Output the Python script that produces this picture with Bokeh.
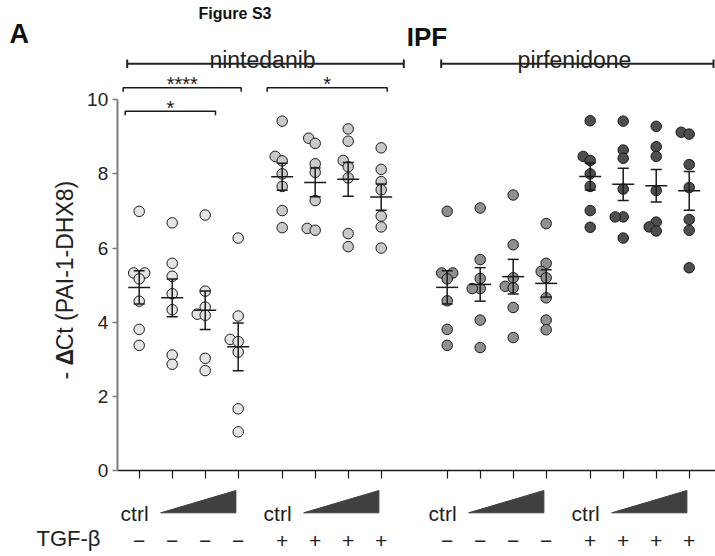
import numpy as np
from bokeh.plotting import figure
from bokeh.models import Range1d, LinearAxis, FixedTicker
from bokeh.core.properties import value
from bokeh.embed import file_html
from bokeh.resources import INLINE

# ---------------- data: -dCt (PAI-1 - DHX8) ----------------
nint_noTGF_ctrl = [6.99, 5.33, 5.33, 5.17, 4.57, 3.81, 3.38]
nint_noTGF_low = [6.68, 5.59, 5.24, 4.77, 4.34, 3.12, 2.87]
nint_noTGF_mid = [6.89, 4.84, 4.41, 4.22, 4.19, 3.03, 2.70]
nint_noTGF_high = [6.27, 4.17, 3.54, 3.48, 3.20, 1.67, 1.05]

nint_TGF_ctrl = [9.42, 8.47, 8.35, 8.00, 7.66, 7.01, 6.55]
nint_TGF_low = [8.96, 8.82, 8.27, 8.04, 7.28, 6.53, 6.48]
nint_TGF_mid = [9.21, 8.88, 8.36, 8.19, 7.89, 6.39, 6.04]
nint_TGF_high = [8.70, 8.12, 7.79, 7.57, 6.86, 6.57, 6.00]

pirf_noTGF_ctrl = [6.99, 5.33, 5.33, 5.17, 4.58, 3.81, 3.38]
pirf_noTGF_low = [7.08, 5.69, 5.18, 4.91, 4.91, 4.06, 3.32]
pirf_noTGF_mid = [7.43, 6.09, 5.20, 4.97, 4.93, 4.40, 3.59]
pirf_noTGF_high = [6.66, 5.59, 5.37, 5.20, 4.66, 4.06, 3.80]

pirf_TGF_ctrl = [9.43, 8.47, 8.36, 8.00, 7.66, 7.01, 6.56]
pirf_TGF_low = [9.42, 8.64, 8.42, 7.59, 6.84, 6.84, 6.27]
pirf_TGF_mid = [9.28, 8.73, 8.47, 7.55, 6.70, 6.57, 6.46]
pirf_TGF_high = [9.12, 9.07, 8.25, 7.63, 6.77, 6.48, 5.47]

drug_names = ["nintedanib", "pirfenidone"]
tgf_signs = ["\u2212", "+", "\u2212", "+"]
ctrl_label = "ctrl"
y_ticks = [0, 2, 4, 6, 8, 10]
sig_labels = ["****", "*", "*"]

blocks = [
    [nint_noTGF_ctrl, nint_noTGF_low, nint_noTGF_mid, nint_noTGF_high],
    [nint_TGF_ctrl, nint_TGF_low, nint_TGF_mid, nint_TGF_high],
    [pirf_noTGF_ctrl, pirf_noTGF_low, pirf_noTGF_mid, pirf_noTGF_high],
    [pirf_TGF_ctrl, pirf_TGF_low, pirf_TGF_mid, pirf_TGF_high],
]

# ---------------- layout / style ----------------
W, H = 715, 556
PAGE = 0.0
X0 = 138.7      # page px of first group
UX = 33.0       # px per x unit
Y0 = 470.3      # page px of y = 0
UY = 37.12      # px per y unit

def fx(px):
    return (px - X0) / UX

def fy(py):
    return (Y0 - py) / UY

x_start, x_end = fx(PAGE), fx(PAGE + W)
y_start, y_end = fy(PAGE + H), fy(PAGE)

block_start = [0.0, 4.333, 9.333, 13.667]
fills = ["#e4e4e4", "#c9c9c9", "#8f8f8f", "#4e4e4e"]
INK = "#1a1a1a"
FONT = "Liberation Sans"

p = figure(width=W, height=H, x_range=Range1d(x_start, x_end),
           y_range=Range1d(y_start, y_end), output_backend="svg",
           toolbar_location=None, x_axis_location=None, y_axis_location=None,
           min_border=0, outline_line_color=None,
           background_fill_color="white", border_fill_color="white")
p.xgrid.visible = False
p.ygrid.visible = False

positions = [b + i for b in block_start for i in range(4)]

# axes
yax = LinearAxis(fixed_location=fx(116.7), bounds=(0, 10),
                 ticker=FixedTicker(ticks=y_ticks),
                 axis_line_color="#7d7d7d", axis_line_width=2,
                 major_tick_line_color="#7d7d7d", major_tick_line_width=1.5,
                 major_tick_out=5, major_tick_in=0,
                 minor_tick_line_color=None,
                 major_label_text_font=FONT, major_label_text_font_size="19px",
                 major_label_text_color="#222222", major_label_standoff=4)
p.add_layout(yax, "left")

xax = LinearAxis(fixed_location=0, bounds=(fx(116.7), x_end),
                 ticker=FixedTicker(ticks=positions),
                 axis_line_color=INK, axis_line_width=1.5,
                 major_tick_line_color=INK, major_tick_line_width=1.2,
                 major_tick_out=8, major_tick_in=0,
                 minor_tick_line_color=None,
                 major_label_text_color=None)
p.add_layout(xax, "below")

# beeswarm jitter (px), computed from the values
def swarm(vals, D=8.0):
    vals = np.asarray(vals, float)
    offs = np.zeros(len(vals))
    placed = []
    cands = [0.0] + [s * m * 0.5 for m in range(1, 80) for s in (-1, 1)]
    for i in np.argsort(vals, kind="stable"):
        yp = vals[i] * UY
        for c in cands:
            if all((c - ox) ** 2 + (yp - oy) ** 2 >= D * D for ox, oy in placed):
                offs[i] = c
                break
        placed.append((offs[i], yp))
    return offs / UX

for bi, blk in enumerate(blocks):
    for gi, vals in enumerate(blk):
        xc = block_start[bi] + gi
        vals = np.asarray(vals, float)
        xs = xc + swarm(vals)
        p.scatter(xs, vals, size=10.5, fill_color=fills[bi],
                  line_color=INK, line_width=1)
        m = vals.mean()
        se = vals.std(ddof=1) / np.sqrt(len(vals))
        p.segment(x0=[xc, xc - 0.167, xc - 0.167, xc - 0.333],
                  y0=[m - se, m - se, m + se, m],
                  x1=[xc, xc + 0.167, xc + 0.167, xc + 0.333],
                  y1=[m + se, m - se, m + se, m],
                  line_color=INK, line_width=1.5)

# drug brackets
br_y, br_t = fy(63.3), 4.2 / UY
spans = [(fx(126.7), fx(403.3)), (fx(440.7), fx(713.0))]
label_x = [fx(262.0), fx(574.0)]
for (a, b), name, lx in zip(spans, drug_names, label_x):
    p.multi_line(xs=[[a, b], [a, a], [b, b]],
                 ys=[[br_y, br_y], [br_y - br_t, br_y + br_t], [br_y - br_t, br_y + br_t]],
                 line_color="#222222", line_width=2)
    p.text(x=[lx], y=[fy(59.5)], text=[name],
           text_font=value(FONT), text_font_size="23px", text_color="#222222",
           text_align="center", text_baseline="alphabetic")

# significance brackets
sig = [((fx(122.7), fx(240.7)), 87.3), ((fx(266.7), fx(386.7)), 87.3),
       ((fx(124.7), fx(215.0)), 110.7)]
for ((a, b), yy), lab in zip(sig, sig_labels):
    y1 = fy(yy)
    t = 4.0 / UY
    p.multi_line(xs=[[a, a, b, b]], ys=[[y1 - t, y1, y1, y1 - t]],
                 line_color=INK, line_width=1.5)
    p.text(x=[(a + b) / 2], y=[fy(yy - 3.5)], text=[lab],
           text_font=value(FONT), text_font_size="20px", text_color=INK,
           text_align="center", text_baseline="alphabetic")

# bottom annotation: ctrl labels, dose wedges, TGF-beta row
for bi, b0 in enumerate(block_start):
    p.text(x=[b0 - 0.14], y=[fy(513.0)], text=[ctrl_label],
           text_font=value(FONT), text_font_size="21px", text_color="#222222",
           text_align="center", text_baseline="alphabetic")
    xa, xb = b0 + 0.65, b0 + 2.93
    p.patch(x=[xa, xb, xb], y=[fy(512.3), fy(512.3), fy(490.0)],
            fill_color="#404040", line_color="#404040", line_width=1)
    p.text(x=[b0 + i for i in range(4)], y=[fy(540.0)] * 4,
           text=[tgf_signs[bi]] * 4,
           text_font=value(FONT), text_font_size="21px", text_color="#222222",
           text_align="center", text_baseline="alphabetic")

p.text(x=[fx(100.0)], y=[fy(538.0)], text=["TGF-\u03b2"],
       text_font=value(FONT), text_font_size="22px", text_color="#222222",
       text_align="right", text_baseline="alphabetic")

# y-axis title: "- ΔCt (PAI-1-DHX8)" with a bold Delta
fs = 23.0
x_lab = fx(64.0)
y_bottom = 379.0
w1 = 0.611 * fs
w2 = 0.66 * fs
pieces = [("- ", "normal", y_bottom), ("\u0394", "bold", y_bottom - w1),
          ("Ct (PAI-1-DHX8)", "normal", y_bottom - w1 - w2)]
for txt, style, py in pieces:
    p.text(x=[x_lab], y=[fy(py)], text=[txt], angle=np.pi / 2,
           text_font=value(FONT), text_font_size=f"{fs:.0f}px", text_font_style=style,
           text_color="#222222", text_align="left", text_baseline="alphabetic")

# titles
p.text(x=[fx(9.0)], y=[fy(33.5)], text=["A"], text_font=value(FONT),
       text_font_size="27px", text_font_style="bold", text_color="#111111",
       text_align="left", text_baseline="alphabetic")
p.text(x=[fx(426.5)], y=[fy(36.0)], text=["IPF"], text_font=value(FONT),
       text_font_size="26px", text_font_style="bold", text_color="#111111",
       text_align="center", text_baseline="alphabetic")
p.text(x=[fx(234.5)], y=[fy(12.5)], text=["Figure S3"], text_font=value(FONT),
       text_font_size="16px", text_font_style="bold", text_color="#111111",
       text_align="center", text_baseline="alphabetic")

open("out.html", "w").write(file_html(p, INLINE))
